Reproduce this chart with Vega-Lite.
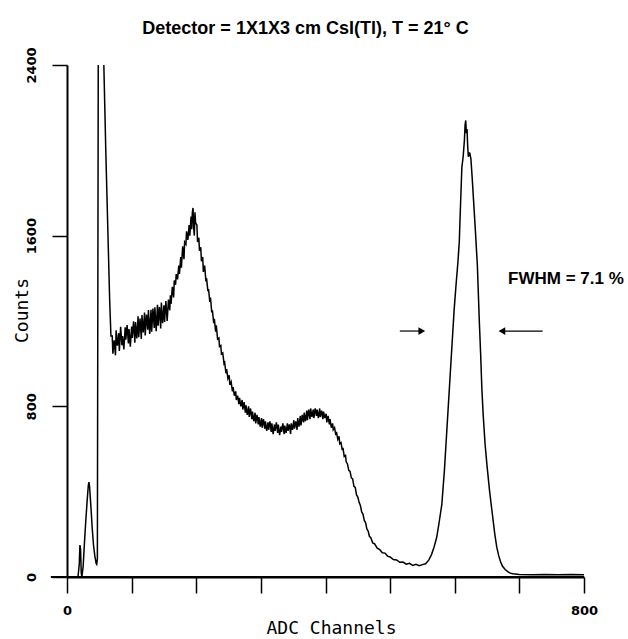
{
  "$schema": "https://vega.github.io/schema/vega-lite/v6.json",
  "width": 517,
  "height": 512,
  "autosize": "none",
  "padding": {"left": 67, "top": 65, "right": 44, "bottom": 62},
  "background": "white",
  "config": {"view": {"stroke": null}},
  "title": {
    "text": "Detector = 1X1X3 cm CsI(Tl),  T = 21° C",
    "font": "Liberation Sans",
    "fontWeight": "bold",
    "fontSize": 18,
    "color": "black",
    "anchor": "middle",
    "dx": -20,
    "offset": 9
  },
  "encoding": {
    "x": {
      "field": "c",
      "type": "quantitative",
      "scale": {"domain": [0, 800], "nice": false, "zero": false},
      "axis": {
        "values": [0, 100, 200, 300, 400, 500, 600, 700, 800],
        "labelExpr": "datum.value == 0 || datum.value == 800 ? datum.label : ''",
        "grid": false,
        "domainColor": "black",
        "domainWidth": 2,
        "tickColor": "black",
        "tickWidth": 1.5,
        "tickSize": 16,
        "labelFont": "DejaVu Sans",
        "labelFontWeight": "bold",
        "labelFontSize": 13,
        "labelColor": "black",
        "labelPadding": 11,
        "labelFlush": false,
        "labelOverlap": false,
        "title": "ADC Channels",
        "titleFont": "DejaVu Sans Mono",
        "titleFontSize": 18,
        "titleFontWeight": "normal",
        "titleColor": "black",
        "titleX": 264,
        "titleY": 56,
        "titleAlign": "center",
        "titleBaseline": "alphabetic"
      }
    },
    "y": {
      "field": "n",
      "type": "quantitative",
      "scale": {"domain": [0, 2400], "nice": false},
      "axis": {
        "values": [0, 800, 1600, 2400],
        "format": "d",
        "grid": false,
        "domainColor": "black",
        "domainWidth": 2,
        "tickColor": "black",
        "tickWidth": 1.5,
        "tickSize": 15,
        "labelFont": "DejaVu Sans",
        "labelFontWeight": "bold",
        "labelFontSize": 13,
        "labelColor": "black",
        "labelAngle": 270,
        "labelAlign": "center",
        "labelBaseline": "alphabetic",
        "labelPadding": 17,
        "labelFlush": false,
        "labelOverlap": false,
        "title": "Counts",
        "titleFont": "DejaVu Sans Mono",
        "titleFontSize": 18,
        "titleFontWeight": "normal",
        "titleColor": "black",
        "titleAngle": 270,
        "titleX": -40,
        "titleY": 245,
        "titleAlign": "center",
        "titleBaseline": "alphabetic"
      }
    }
  },
  "layer": [
    {
      "data": {"values": [{"c": -25, "c2": 800, "n": 0}]},
      "mark": {"type": "rule", "color": "black", "strokeWidth": 2},
      "encoding": {"x2": {"field": "c2"}}
    },
    {
      "data": {"values": [
        {"c":0,"n":0},{"c":10,"n":0},{"c":17,"n":0},{"c":19,"n":60},{"c":20,"n":150},{"c":21,"n":130},{"c":22,"n":20},{"c":23,"n":0},
        {"c":25,"n":50},{"c":27,"n":160},{"c":29,"n":260},{"c":31,"n":350},{"c":33,"n":430},{"c":34,"n":445},{"c":35,"n":420},{"c":37,"n":330},
        {"c":39,"n":230},{"c":41,"n":150},{"c":43,"n":100},{"c":45,"n":65},{"c":46,"n":60},{"c":47,"n":85},{"c":49,"n":3500},{"c":52,"n":6000},
        {"c":55,"n":3200},{"c":57,"n":2400},{"c":60,"n":2000},{"c":63,"n":1650},{"c":66,"n":1300},
        {"c":68,"n":1130},{"c":70,"n":1130},{"c":71,"n":1047},{"c":73,"n":1110},{"c":75,"n":1039},{"c":76,"n":1156},{"c":78,"n":1084},{"c":80,"n":1143},
        {"c":81,"n":1060},{"c":83,"n":1173},{"c":85,"n":1087},{"c":86,"n":1129},{"c":88,"n":1067},{"c":90,"n":1171},{"c":91,"n":1113},{"c":93,"n":1181},
        {"c":95,"n":1095},{"c":96,"n":1162},{"c":98,"n":1080},{"c":100,"n":1174},{"c":101,"n":1121},{"c":103,"n":1199},{"c":105,"n":1098},{"c":106,"n":1195},
        {"c":108,"n":1118},{"c":110,"n":1222},{"c":111,"n":1124},{"c":113,"n":1212},{"c":115,"n":1116},{"c":116,"n":1228},{"c":118,"n":1146},{"c":120,"n":1240},
        {"c":121,"n":1132},{"c":123,"n":1230},{"c":125,"n":1159},{"c":126,"n":1251},{"c":128,"n":1139},{"c":130,"n":1253},{"c":131,"n":1150},{"c":133,"n":1258},
        {"c":135,"n":1167},{"c":136,"n":1264},{"c":138,"n":1152},{"c":140,"n":1276},{"c":141,"n":1178},{"c":143,"n":1266},{"c":145,"n":1165},{"c":146,"n":1287},
        {"c":148,"n":1190},{"c":150,"n":1274},{"c":151,"n":1196},{"c":153,"n":1294},{"c":155,"n":1200},{"c":157,"n":1300},{"c":159,"n":1250},
        {"c":160,"n":1320},{"c":161,"n":1280},{"c":163,"n":1360},{"c":165,"n":1310},{"c":166,"n":1390},{"c":168,"n":1370},{"c":169,"n":1420},{"c":171,"n":1395},
        {"c":173,"n":1460},{"c":174,"n":1420},{"c":176,"n":1500},{"c":177,"n":1450},{"c":179,"n":1550},{"c":181,"n":1490},{"c":182,"n":1570},{"c":184,"n":1560},
        {"c":185,"n":1620},{"c":187,"n":1580},{"c":189,"n":1650},{"c":190,"n":1600},{"c":192,"n":1690},{"c":193,"n":1630},{"c":194,"n":1710},{"c":195,"n":1730},
        {"c":196,"n":1640},{"c":197,"n":1600},{"c":198,"n":1710},{"c":199,"n":1660},{"c":201,"n":1650},{"c":202,"n":1570},{"c":204,"n":1590},{"c":205,"n":1530},
        {"c":207,"n":1545},{"c":208,"n":1480},{"c":210,"n":1500},{"c":211,"n":1430},{"c":213,"n":1460},{"c":215,"n":1385},{"c":216,"n":1400},{"c":218,"n":1340},
        {"c":219,"n":1350},{"c":221,"n":1290},{"c":222,"n":1310},{"c":224,"n":1240},{"c":225,"n":1250},{"c":227,"n":1190},{"c":228,"n":1210},{"c":230,"n":1150},
        {"c":231,"n":1180},{"c":233,"n":1115},{"c":235,"n":1120},{"c":236,"n":1080},{"c":238,"n":1085},{"c":239,"n":1045},{"c":241,"n":1050},{"c":243,"n":1000},
        {"c":244,"n":1005},{"c":246,"n":955},{"c":247,"n":975},{"c":249,"n":930},{"c":251,"n":945},{"c":252,"n":900},{"c":254,"n":915},{"c":256,"n":870},
        {"c":257,"n":890},{"c":259,"n":850},{"c":261,"n":870},{"c":262,"n":830},{"c":264,"n":850},{"c":266,"n":810},{"c":267,"n":840},{"c":269,"n":800},
        {"c":271,"n":830},{"c":272,"n":785},{"c":274,"n":820},{"c":276,"n":770},{"c":277,"n":805},{"c":279,"n":760},{"c":281,"n":800},{"c":282,"n":750},
        {"c":284,"n":790},{"c":286,"n":740},{"c":287,"n":775},{"c":289,"n":730},{"c":291,"n":770},{"c":292,"n":720},{"c":294,"n":760},{"c":296,"n":715},
        {"c":297,"n":750},{"c":299,"n":705},{"c":301,"n":745},{"c":302,"n":700},{"c":304,"n":740},{"c":306,"n":695},{"c":307,"n":730},{"c":309,"n":685},
        {"c":311,"n":725},{"c":312,"n":690},{"c":314,"n":730},{"c":316,"n":680},{"c":317,"n":720},{"c":319,"n":670},{"c":321,"n":715},{"c":322,"n":685},
        {"c":324,"n":725},{"c":326,"n":675},{"c":327,"n":715},{"c":329,"n":665},{"c":331,"n":705},{"c":332,"n":680},{"c":334,"n":720},{"c":336,"n":670},
        {"c":337,"n":710},{"c":339,"n":675},{"c":341,"n":720},{"c":342,"n":685},{"c":344,"n":715},{"c":346,"n":670},{"c":347,"n":720},{"c":349,"n":690},
        {"c":351,"n":735},{"c":352,"n":695},{"c":354,"n":730},{"c":356,"n":690},{"c":357,"n":745},{"c":359,"n":705},{"c":361,"n":755},{"c":362,"n":710},
        {"c":364,"n":760},{"c":366,"n":725},{"c":367,"n":770},{"c":369,"n":730},{"c":371,"n":780},{"c":372,"n":735},{"c":374,"n":785},{"c":376,"n":740},
        {"c":377,"n":790},{"c":379,"n":750},{"c":381,"n":785},{"c":382,"n":745},{"c":384,"n":790},{"c":386,"n":755},{"c":387,"n":785},{"c":389,"n":745},
        {"c":391,"n":790},{"c":392,"n":750},{"c":394,"n":780},{"c":396,"n":740},{"c":397,"n":775},{"c":399,"n":745},{"c":401,"n":765},{"c":402,"n":725},
        {"c":404,"n":755},{"c":406,"n":715},{"c":407,"n":740},{"c":409,"n":700},{"c":411,"n":720},{"c":412,"n":690},{"c":414,"n":700},{"c":416,"n":665},
        {"c":417,"n":680},{"c":419,"n":645},{"c":421,"n":660},{"c":422,"n":625},{"c":424,"n":630},{"c":426,"n":595},{"c":427,"n":605},{"c":429,"n":565},
        {"c":431,"n":570},{"c":432,"n":540},{"c":434,"n":530},{"c":436,"n":500},{"c":438,"n":495},{"c":440,"n":465},{"c":442,"n":460},{"c":444,"n":425},
        {"c":446,"n":420},{"c":448,"n":385},{"c":450,"n":375},{"c":452,"n":350},{"c":454,"n":335},{"c":456,"n":305},{"c":458,"n":295},{"c":460,"n":265},
        {"c":462,"n":255},{"c":464,"n":225},{"c":466,"n":215},{"c":468,"n":190},{"c":470,"n":185},{"c":473,"n":160},{"c":476,"n":155},{"c":480,"n":135},
        {"c":484,"n":128},{"c":488,"n":114},{"c":492,"n":112},{"c":496,"n":98},{"c":500,"n":94},{"c":505,"n":82},{"c":510,"n":80},{"c":515,"n":69},
        {"c":520,"n":70},{"c":525,"n":60},{"c":530,"n":64},{"c":535,"n":54},{"c":540,"n":60},{"c":545,"n":53},{"c":550,"n":58},{"c":555,"n":62},
        {"c":560,"n":80},{"c":564,"n":105},{"c":568,"n":140},{"c":572,"n":185},{"c":575,"n":240},{"c":578,"n":300},{"c":580,"n":340},{"c":582,"n":420},
        {"c":584,"n":500},{"c":586,"n":600},{"c":588,"n":700},{"c":590,"n":800},{"c":592,"n":900},{"c":594,"n":1000},{"c":596,"n":1100},{"c":599,"n":1250},
        {"c":602,"n":1370},{"c":605,"n":1480},{"c":607,"n":1570},{"c":609,"n":1750},{"c":611,"n":1920},{"c":613,"n":1970},{"c":615,"n":2050},{"c":616,"n":2120},
        {"c":617,"n":2140},{"c":618,"n":2080},{"c":619,"n":2100},{"c":620,"n":2020},{"c":621,"n":1970},{"c":623,"n":1990},{"c":625,"n":1960},{"c":627,"n":1870},
        {"c":629,"n":1770},{"c":632,"n":1620},{"c":635,"n":1460},{"c":638,"n":1200},{"c":640,"n":1050},{"c":642,"n":880},{"c":644,"n":760},{"c":647,"n":620},
        {"c":650,"n":520},{"c":654,"n":400},{"c":658,"n":300},{"c":662,"n":200},{"c":665,"n":140},{"c":668,"n":100},{"c":671,"n":70},{"c":674,"n":50},
        {"c":678,"n":35},{"c":682,"n":25},{"c":686,"n":18},{"c":690,"n":15},{"c":700,"n":12},{"c":720,"n":10},{"c":740,"n":12},{"c":760,"n":10},
        {"c":780,"n":12},{"c":800,"n":10}
      ]},
      "mark": {"type": "line", "color": "black", "strokeWidth": 1.5, "clip": true}
    },
    {
      "data": {"values": [{"c": 515, "c2": 548, "n": 1153}, {"c": 675, "c2": 736, "n": 1153}]},
      "mark": {"type": "rule", "color": "black", "strokeWidth": 1.2},
      "encoding": {"x2": {"field": "c2"}}
    },
    {
      "data": {"values": [{"c": 549, "n": 1153}]},
      "mark": {"type": "point", "shape": "triangle-right", "filled": true, "color": "black", "size": 60, "opacity": 1}
    },
    {
      "data": {"values": [{"c": 673, "n": 1153}]},
      "mark": {"type": "point", "shape": "triangle-left", "filled": true, "color": "black", "size": 60, "opacity": 1}
    },
    {
      "data": {"values": [{"c": 772, "n": 1397, "label": "FWHM = 7.1 %"}]},
      "mark": {"type": "text", "font": "Liberation Sans", "fontWeight": "bold", "fontSize": 17, "color": "black", "align": "center", "baseline": "middle"},
      "encoding": {"text": {"field": "label"}}
    }
  ]
}
